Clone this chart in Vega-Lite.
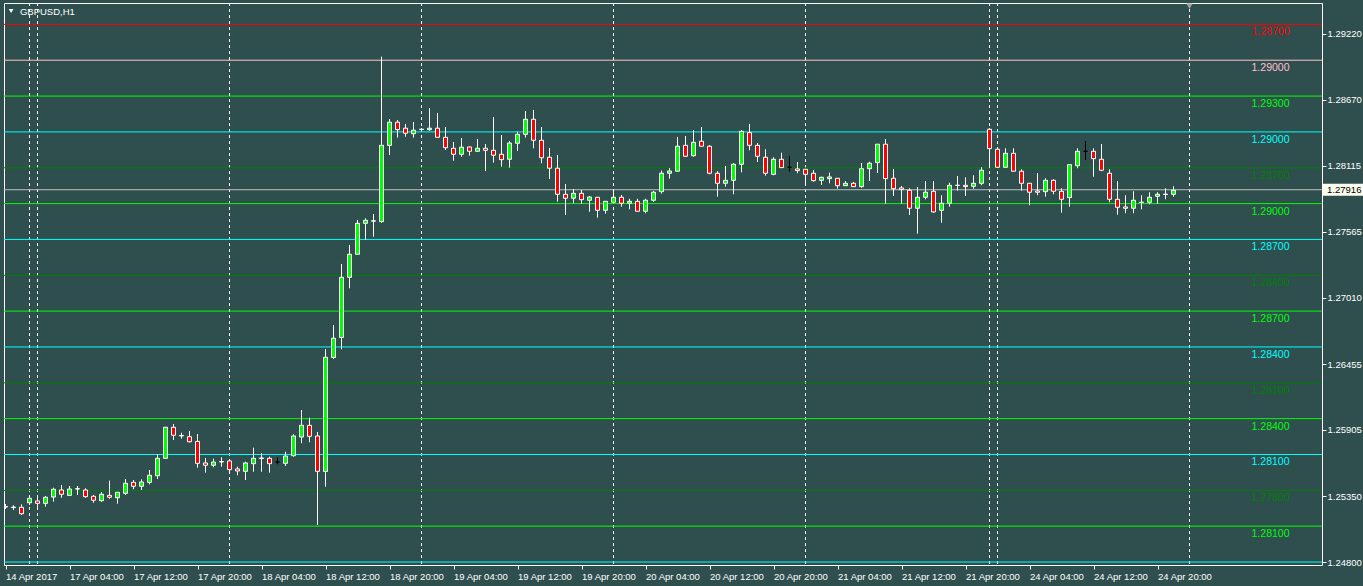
{
  "$schema": "https://vega.github.io/schema/vega-lite/v6.json",
  "width": 1318,
  "height": 562,
  "autosize": {"type": "none"},
  "padding": {"left": 4, "top": 3, "right": 41, "bottom": 21},
  "background": "#2f4f4f",
  "config": {
    "view": {"stroke": "#ffffff", "strokeWidth": 1, "fill": "#2f4f4f"},
    "axis": {"grid": false, "domain": false, "title": null, "labelFont": "Liberation Sans", "labelColor": "#ffffff", "tickColor": "#ffffff", "labelFontSize": 9.5},
    "text": {"font": "Liberation Sans"}
  },
  "datasets": {
    "candles": [
      {"i":0,"o":1.25265,"h":1.25286,"l":1.25244,"c":1.25260,"dir":"down"},
      {"i":1,"o":1.25260,"h":1.25275,"l":1.25235,"c":1.25256,"dir":"down"},
      {"i":2,"o":1.25258,"h":1.25283,"l":1.25193,"c":1.25204,"dir":"down"},
      {"i":3,"o":1.25296,"h":1.25358,"l":1.25277,"c":1.25333,"dir":"up"},
      {"i":4,"o":1.25311,"h":1.25344,"l":1.25235,"c":1.25291,"dir":"down"},
      {"i":5,"o":1.25291,"h":1.25352,"l":1.25263,"c":1.25342,"dir":"up"},
      {"i":6,"o":1.25344,"h":1.25422,"l":1.25305,"c":1.25409,"dir":"up"},
      {"i":7,"o":1.25403,"h":1.25445,"l":1.25338,"c":1.25367,"dir":"down"},
      {"i":8,"o":1.25358,"h":1.25436,"l":1.25352,"c":1.25411,"dir":"up"},
      {"i":9,"o":1.25414,"h":1.25436,"l":1.25361,"c":1.25411,"dir":"down"},
      {"i":10,"o":1.25403,"h":1.25417,"l":1.25338,"c":1.25347,"dir":"down"},
      {"i":11,"o":1.25350,"h":1.25361,"l":1.25296,"c":1.25317,"dir":"down"},
      {"i":12,"o":1.25313,"h":1.25386,"l":1.25305,"c":1.25367,"dir":"up"},
      {"i":13,"o":1.25358,"h":1.25481,"l":1.25330,"c":1.25342,"dir":"down"},
      {"i":14,"o":1.25338,"h":1.25388,"l":1.25288,"c":1.25383,"dir":"up"},
      {"i":15,"o":1.25375,"h":1.25495,"l":1.25361,"c":1.25459,"dir":"up"},
      {"i":16,"o":1.25467,"h":1.25486,"l":1.25409,"c":1.25434,"dir":"down"},
      {"i":17,"o":1.25434,"h":1.25492,"l":1.25403,"c":1.25470,"dir":"up"},
      {"i":18,"o":1.25467,"h":1.25570,"l":1.25450,"c":1.25526,"dir":"up"},
      {"i":19,"o":1.25522,"h":1.25704,"l":1.25495,"c":1.25668,"dir":"up"},
      {"i":20,"o":1.25668,"h":1.25930,"l":1.25662,"c":1.25928,"dir":"up"},
      {"i":21,"o":1.25928,"h":1.25955,"l":1.25821,"c":1.25861,"dir":"down"},
      {"i":22,"o":1.25859,"h":1.25882,"l":1.25832,"c":1.25855,"dir":"down"},
      {"i":23,"o":1.25849,"h":1.25897,"l":1.25800,"c":1.25807,"dir":"down"},
      {"i":24,"o":1.25810,"h":1.25871,"l":1.25589,"c":1.25626,"dir":"down"},
      {"i":25,"o":1.25629,"h":1.25671,"l":1.25548,"c":1.25610,"dir":"down"},
      {"i":26,"o":1.25610,"h":1.25665,"l":1.25593,"c":1.25637,"dir":"up"},
      {"i":27,"o":1.25641,"h":1.25676,"l":1.25598,"c":1.25637,"dir":"down"},
      {"i":28,"o":1.25646,"h":1.25660,"l":1.25548,"c":1.25573,"dir":"down"},
      {"i":29,"o":1.25579,"h":1.25598,"l":1.25526,"c":1.25562,"dir":"down"},
      {"i":30,"o":1.25559,"h":1.25640,"l":1.25486,"c":1.25629,"dir":"up"},
      {"i":31,"o":1.25623,"h":1.25757,"l":1.25556,"c":1.25668,"dir":"up"},
      {"i":32,"o":1.25671,"h":1.25710,"l":1.25556,"c":1.25666,"dir":"down"},
      {"i":33,"o":1.25668,"h":1.25682,"l":1.25548,"c":1.25623,"dir":"down"},
      {"i":34,"o":1.25637,"h":1.25676,"l":1.25618,"c":1.25637,"dir":"doji"},
      {"i":35,"o":1.25626,"h":1.25723,"l":1.25604,"c":1.25687,"dir":"up"},
      {"i":36,"o":1.25690,"h":1.25869,"l":1.25682,"c":1.25855,"dir":"up"},
      {"i":37,"o":1.25846,"h":1.26072,"l":1.25794,"c":1.25944,"dir":"up"},
      {"i":38,"o":1.25944,"h":1.26008,"l":1.25802,"c":1.25852,"dir":"down"},
      {"i":39,"o":1.25855,"h":1.25888,"l":1.25110,"c":1.25559,"dir":"down"},
      {"i":40,"o":1.25558,"h":1.26583,"l":1.25430,"c":1.26514,"dir":"up"},
      {"i":41,"o":1.26512,"h":1.26784,"l":1.26499,"c":1.26673,"dir":"up"},
      {"i":42,"o":1.26679,"h":1.27295,"l":1.26581,"c":1.27183,"dir":"up"},
      {"i":43,"o":1.27183,"h":1.27454,"l":1.27091,"c":1.27376,"dir":"up"},
      {"i":44,"o":1.27376,"h":1.27663,"l":1.27374,"c":1.27635,"dir":"up"},
      {"i":45,"o":1.27635,"h":1.27677,"l":1.27495,"c":1.27660,"dir":"up"},
      {"i":46,"o":1.27653,"h":1.27713,"l":1.27523,"c":1.27656,"dir":"up"},
      {"i":47,"o":1.27649,"h":1.29030,"l":1.27640,"c":1.28288,"dir":"up"},
      {"i":48,"o":1.28287,"h":1.28508,"l":1.28207,"c":1.28481,"dir":"up"},
      {"i":49,"o":1.28481,"h":1.28500,"l":1.28352,"c":1.28419,"dir":"down"},
      {"i":50,"o":1.28431,"h":1.28467,"l":1.28360,"c":1.28389,"dir":"down"},
      {"i":51,"o":1.28385,"h":1.28483,"l":1.28352,"c":1.28414,"dir":"up"},
      {"i":52,"o":1.28420,"h":1.28433,"l":1.28410,"c":1.28423,"dir":"up"},
      {"i":53,"o":1.28419,"h":1.28600,"l":1.28410,"c":1.28431,"dir":"up"},
      {"i":54,"o":1.28431,"h":1.28559,"l":1.28353,"c":1.28355,"dir":"down"},
      {"i":55,"o":1.28355,"h":1.28441,"l":1.28249,"c":1.28268,"dir":"down"},
      {"i":56,"o":1.28263,"h":1.28316,"l":1.28159,"c":1.28213,"dir":"down"},
      {"i":57,"o":1.28213,"h":1.28349,"l":1.28193,"c":1.28272,"dir":"up"},
      {"i":58,"o":1.28274,"h":1.28278,"l":1.28201,"c":1.28238,"dir":"down"},
      {"i":59,"o":1.28238,"h":1.28341,"l":1.28232,"c":1.28263,"dir":"up"},
      {"i":60,"o":1.28263,"h":1.28299,"l":1.28073,"c":1.28246,"dir":"down"},
      {"i":61,"o":1.28246,"h":1.28525,"l":1.28143,"c":1.28205,"dir":"down"},
      {"i":62,"o":1.28213,"h":1.28374,"l":1.28109,"c":1.28168,"dir":"down"},
      {"i":63,"o":1.28171,"h":1.28324,"l":1.28101,"c":1.28307,"dir":"up"},
      {"i":64,"o":1.28305,"h":1.28402,"l":1.28240,"c":1.28380,"dir":"up"},
      {"i":65,"o":1.28380,"h":1.28575,"l":1.28352,"c":1.28506,"dir":"up"},
      {"i":66,"o":1.28506,"h":1.28584,"l":1.28263,"c":1.28330,"dir":"down"},
      {"i":67,"o":1.28330,"h":1.28441,"l":1.28138,"c":1.28184,"dir":"down"},
      {"i":68,"o":1.28188,"h":1.28266,"l":1.28006,"c":1.28096,"dir":"down"},
      {"i":69,"o":1.28096,"h":1.28207,"l":1.27816,"c":1.27878,"dir":"down"},
      {"i":70,"o":1.27878,"h":1.27964,"l":1.27705,"c":1.27845,"dir":"down"},
      {"i":71,"o":1.27845,"h":1.27922,"l":1.27803,"c":1.27886,"dir":"up"},
      {"i":72,"o":1.27886,"h":1.27914,"l":1.27797,"c":1.27833,"dir":"down"},
      {"i":73,"o":1.27828,"h":1.27864,"l":1.27732,"c":1.27855,"dir":"up"},
      {"i":74,"o":1.27853,"h":1.27855,"l":1.27682,"c":1.27744,"dir":"down"},
      {"i":75,"o":1.27744,"h":1.27822,"l":1.27716,"c":1.27819,"dir":"up"},
      {"i":76,"o":1.27811,"h":1.27922,"l":1.27803,"c":1.27853,"dir":"up"},
      {"i":77,"o":1.27853,"h":1.27872,"l":1.27774,"c":1.27803,"dir":"down"},
      {"i":78,"o":1.27803,"h":1.27841,"l":1.27752,"c":1.27819,"dir":"up"},
      {"i":79,"o":1.27819,"h":1.27841,"l":1.27732,"c":1.27736,"dir":"down"},
      {"i":80,"o":1.27736,"h":1.27841,"l":1.27719,"c":1.27828,"dir":"up"},
      {"i":81,"o":1.27828,"h":1.27906,"l":1.27814,"c":1.27895,"dir":"up"},
      {"i":82,"o":1.27900,"h":1.28076,"l":1.27883,"c":1.28054,"dir":"up"},
      {"i":83,"o":1.28054,"h":1.28096,"l":1.28009,"c":1.28073,"dir":"up"},
      {"i":84,"o":1.28071,"h":1.28358,"l":1.28069,"c":1.28280,"dir":"up"},
      {"i":85,"o":1.28288,"h":1.28366,"l":1.28194,"c":1.28196,"dir":"down"},
      {"i":86,"o":1.28201,"h":1.28416,"l":1.28193,"c":1.28313,"dir":"up"},
      {"i":87,"o":1.28322,"h":1.28441,"l":1.28278,"c":1.28280,"dir":"down"},
      {"i":88,"o":1.28280,"h":1.28288,"l":1.28045,"c":1.28054,"dir":"down"},
      {"i":89,"o":1.28054,"h":1.28071,"l":1.27858,"c":1.27970,"dir":"down"},
      {"i":90,"o":1.27970,"h":1.28115,"l":1.27942,"c":1.27995,"dir":"up"},
      {"i":91,"o":1.27995,"h":1.28138,"l":1.27878,"c":1.28129,"dir":"up"},
      {"i":92,"o":1.28129,"h":1.28414,"l":1.28062,"c":1.28405,"dir":"up"},
      {"i":93,"o":1.28394,"h":1.28467,"l":1.28246,"c":1.28288,"dir":"down"},
      {"i":94,"o":1.28288,"h":1.28307,"l":1.28148,"c":1.28196,"dir":"down"},
      {"i":95,"o":1.28188,"h":1.28255,"l":1.28034,"c":1.28054,"dir":"down"},
      {"i":96,"o":1.28045,"h":1.28188,"l":1.28037,"c":1.28171,"dir":"up"},
      {"i":97,"o":1.28171,"h":1.28226,"l":1.28098,"c":1.28101,"dir":"down"},
      {"i":98,"o":1.28104,"h":1.28199,"l":1.28067,"c":1.28104,"dir":"doji"},
      {"i":99,"o":1.28090,"h":1.28148,"l":1.28054,"c":1.28076,"dir":"down"},
      {"i":100,"o":1.28087,"h":1.28090,"l":1.27948,"c":1.28045,"dir":"down"},
      {"i":101,"o":1.28054,"h":1.28081,"l":1.27984,"c":1.27992,"dir":"down"},
      {"i":102,"o":1.27995,"h":1.28025,"l":1.27956,"c":1.28020,"dir":"up"},
      {"i":103,"o":1.28009,"h":1.28059,"l":1.27970,"c":1.28023,"dir":"up"},
      {"i":104,"o":1.28012,"h":1.28015,"l":1.27925,"c":1.27950,"dir":"down"},
      {"i":105,"o":1.27950,"h":1.27989,"l":1.27948,"c":1.27970,"dir":"up"},
      {"i":106,"o":1.27970,"h":1.27981,"l":1.27939,"c":1.27942,"dir":"down"},
      {"i":107,"o":1.27942,"h":1.28140,"l":1.27933,"c":1.28092,"dir":"up"},
      {"i":108,"o":1.28092,"h":1.28151,"l":1.27989,"c":1.28138,"dir":"up"},
      {"i":109,"o":1.28143,"h":1.28299,"l":1.28056,"c":1.28297,"dir":"up"},
      {"i":110,"o":1.28297,"h":1.28341,"l":1.27799,"c":1.28009,"dir":"down"},
      {"i":111,"o":1.28012,"h":1.28090,"l":1.27864,"c":1.27925,"dir":"down"},
      {"i":112,"o":1.27931,"h":1.27948,"l":1.27799,"c":1.27917,"dir":"down"},
      {"i":113,"o":1.27912,"h":1.27928,"l":1.27705,"c":1.27761,"dir":"down"},
      {"i":114,"o":1.27761,"h":1.27939,"l":1.27548,"c":1.27853,"dir":"up"},
      {"i":115,"o":1.27853,"h":1.27989,"l":1.27836,"c":1.27895,"dir":"up"},
      {"i":116,"o":1.27903,"h":1.27989,"l":1.27724,"c":1.27730,"dir":"down"},
      {"i":117,"o":1.27744,"h":1.27870,"l":1.27640,"c":1.27803,"dir":"up"},
      {"i":118,"o":1.27803,"h":1.27975,"l":1.27774,"c":1.27953,"dir":"up"},
      {"i":119,"o":1.27952,"h":1.28031,"l":1.27908,"c":1.27954,"dir":"up"},
      {"i":120,"o":1.27953,"h":1.28020,"l":1.27864,"c":1.27942,"dir":"down"},
      {"i":121,"o":1.27945,"h":1.28037,"l":1.27925,"c":1.27970,"dir":"up"},
      {"i":122,"o":1.27970,"h":1.28104,"l":1.27953,"c":1.28079,"dir":"up"},
      {"i":123,"o":1.28422,"h":1.28431,"l":1.28096,"c":1.28260,"dir":"down"},
      {"i":124,"o":1.28255,"h":1.28262,"l":1.28098,"c":1.28104,"dir":"down"},
      {"i":125,"o":1.28104,"h":1.28263,"l":1.28101,"c":1.28221,"dir":"up"},
      {"i":126,"o":1.28221,"h":1.28263,"l":1.28069,"c":1.28071,"dir":"down"},
      {"i":127,"o":1.28071,"h":1.28087,"l":1.27908,"c":1.27970,"dir":"down"},
      {"i":128,"o":1.27970,"h":1.27973,"l":1.27786,"c":1.27895,"dir":"down"},
      {"i":129,"o":1.27906,"h":1.28056,"l":1.27870,"c":1.27895,"dir":"down"},
      {"i":130,"o":1.27900,"h":1.28012,"l":1.27858,"c":1.27995,"dir":"up"},
      {"i":131,"o":1.27995,"h":1.28004,"l":1.27878,"c":1.27903,"dir":"down"},
      {"i":132,"o":1.27903,"h":1.27928,"l":1.27724,"c":1.27836,"dir":"down"},
      {"i":133,"o":1.27850,"h":1.28127,"l":1.27774,"c":1.28126,"dir":"up"},
      {"i":134,"o":1.28117,"h":1.28263,"l":1.28096,"c":1.28238,"dir":"up"},
      {"i":135,"o":1.28238,"h":1.28324,"l":1.28165,"c":1.28238,"dir":"doji"},
      {"i":136,"o":1.28238,"h":1.28263,"l":1.28025,"c":1.28176,"dir":"down"},
      {"i":137,"o":1.28171,"h":1.28299,"l":1.28071,"c":1.28079,"dir":"down"},
      {"i":138,"o":1.28054,"h":1.28087,"l":1.27811,"c":1.27836,"dir":"down"},
      {"i":139,"o":1.27836,"h":1.27989,"l":1.27707,"c":1.27769,"dir":"down"},
      {"i":140,"o":1.27772,"h":1.27870,"l":1.27719,"c":1.27761,"dir":"down"},
      {"i":141,"o":1.27761,"h":1.27903,"l":1.27719,"c":1.27828,"dir":"up"},
      {"i":142,"o":1.27809,"h":1.27870,"l":1.27752,"c":1.27812,"dir":"up"},
      {"i":143,"o":1.27811,"h":1.27895,"l":1.27794,"c":1.27853,"dir":"up"},
      {"i":144,"o":1.27861,"h":1.27895,"l":1.27797,"c":1.27878,"dir":"up"},
      {"i":145,"o":1.27876,"h":1.27928,"l":1.27836,"c":1.27879,"dir":"up"},
      {"i":146,"o":1.27878,"h":1.27945,"l":1.27858,"c":1.27912,"dir":"up"}
    ],
    "levels": [
      {"level":1.293,"set":"r","label":"1.28700"},
      {"level":1.290,"set":"p","label":"1.29000"},
      {"level":1.287,"set":"a","label":"1.29300"},
      {"level":1.284,"set":"b","label":"1.29000"},
      {"level":1.281,"set":"c","label":"1.28700"},
      {"level":1.278,"set":"a","label":"1.29000"},
      {"level":1.275,"set":"b","label":"1.28700"},
      {"level":1.272,"set":"c","label":"1.28400"},
      {"level":1.269,"set":"a","label":"1.28700"},
      {"level":1.266,"set":"b","label":"1.28400"},
      {"level":1.263,"set":"c","label":"1.28100"},
      {"level":1.260,"set":"a","label":"1.28400"},
      {"level":1.257,"set":"b","label":"1.28100"},
      {"level":1.254,"set":"c","label":"1.27800"},
      {"level":1.251,"set":"a","label":"1.28100"},
      {"level":1.248,"set":"b","label":""}
    ],
    "seps": [{"i":3},{"i":4},{"i":28},{"i":52},{"i":76},{"i":100},{"i":123},{"i":124},{"i":148}],
    "bid": [{"price":1.27916}],
    "symbol": [{"name":"GBPUSD,H1"}]
  },
  "layer": [
    {
      "data": {"name": "seps"},
      "mark": {"type": "rule", "stroke": "#ffffff", "strokeWidth": 1, "strokeDash": [3, 3]},
      "encoding": {
        "x": {"field": "i", "type": "quantitative", "scale": {"domain": [-0.1875, 164.5625], "nice": false, "zero": false, "padding": 0},
              "axis": {"orient": "bottom", "values": [0,8,16,24,32,40,48,56,64,72,80,88,96,104,112,120,128,136,144], "labelAlign": "left", "labelPadding": 2, "tickSize": 4, "labelOverlap": false, "labelBound": false, "labelFlush": false,
                       "labelExpr": "['14 Apr 2017','17 Apr 04:00','17 Apr 12:00','17 Apr 20:00','18 Apr 04:00','18 Apr 12:00','18 Apr 20:00','19 Apr 04:00','19 Apr 12:00','19 Apr 20:00','20 Apr 04:00','20 Apr 12:00','20 Apr 20:00','21 Apr 04:00','21 Apr 12:00','21 Apr 20:00','24 Apr 04:00','24 Apr 12:00','24 Apr 20:00'][round(datum.value/8)]"}}
      }
    },
    {
      "data": {"name": "levels"},
      "mark": {"type": "rule", "strokeWidth": 1},
      "encoding": {
        "y": {"field": "level", "type": "quantitative", "scale": {"domain": [1.24775, 1.29479], "nice": false, "zero": false},
              "axis": {"orient": "right", "values": [1.2922,1.28945,1.2867,1.2839,1.28115,1.2784,1.27565,1.27285,1.2701,1.26735,1.26455,1.2618,1.25905,1.2563,1.2535,1.25075,1.248], "format": ".5f", "labelAlign": "left", "labelPadding": 1, "tickSize": 4, "labelOverlap": false, "labelBound": false, "labelFlush": false}},
        "color": {"field": "set", "type": "nominal", "legend": null, "scale": {"domain": ["r","p","a","b","c"], "range": ["#ff0000","#ffc0cb","#00ff00","#00ffff","#008000"]}}
      }
    },
    {
      "data": {"name": "levels"},
      "mark": {"type": "text", "align": "right", "baseline": "middle", "dy": 8, "fontSize": 10.5, "clip": true},
      "encoding": {
        "x": {"datum": 160.5},
        "y": {"field": "level", "type": "quantitative"},
        "text": {"field": "label"},
        "color": {"field": "set", "type": "nominal", "legend": null}
      }
    },
    {
      "data": {"name": "bid"},
      "mark": {"type": "rule", "stroke": "#c0c0c0", "strokeWidth": 1},
      "encoding": {"y": {"field": "price", "type": "quantitative"}}
    },
    {
      "data": {"name": "candles"},
      "mark": {"type": "rule", "strokeWidth": 1, "clip": true},
      "encoding": {
        "x": {"field": "i", "type": "quantitative"},
        "y": {"field": "l", "type": "quantitative"},
        "y2": {"field": "h"},
        "stroke": {"field": "dir", "type": "nominal", "legend": null, "scale": {"domain": ["up","down","doji"], "range": ["#ffffff","#ffffff","#000000"]}}
      }
    },
    {
      "data": {"name": "candles"},
      "mark": {"type": "bar", "width": 4, "strokeWidth": 1, "clip": true},
      "encoding": {
        "x": {"field": "i", "type": "quantitative"},
        "y": {"field": "o", "type": "quantitative"},
        "y2": {"field": "c"},
        "fill": {"field": "dir", "type": "nominal", "legend": null, "scale": {"domain": ["up","down","doji"], "range": ["#00ff00","#ff0000","#000000"]}},
        "stroke": {"field": "dir", "type": "nominal", "legend": null}
      }
    },
    {
      "data": {"name": "bid"},
      "mark": {"type": "rect", "fill": "#fffff0", "clip": false},
      "encoding": {
        "x": {"datum": 164.6875},
        "x2": {"datum": 170.5},
        "y": {"datum": 1.27966},
        "y2": {"datum": 1.27866}
      }
    },
    {
      "data": {"name": "bid"},
      "mark": {"type": "text", "align": "left", "baseline": "middle", "fontSize": 9.5, "color": "#000000", "clip": false},
      "encoding": {
        "x": {"datum": 165.2},
        "y": {"field": "price", "type": "quantitative"},
        "text": {"field": "price", "type": "quantitative", "format": ".5f"}
      }
    },
    {
      "data": {"name": "symbol"},
      "mark": {"type": "point", "shape": "triangle-down", "filled": true, "fill": "#ffffff", "size": 22, "opacity": 1},
      "encoding": {"x": {"datum": 0.7}, "y": {"datum": 1.29412}}
    },
    {
      "data": {"name": "symbol"},
      "mark": {"type": "text", "align": "left", "baseline": "middle", "fontSize": 9.5, "color": "#ffffff"},
      "encoding": {"x": {"datum": 1.8}, "y": {"datum": 1.29404}, "text": {"field": "name"}}
    },
    {
      "data": {"name": "symbol"},
      "mark": {"type": "point", "shape": "triangle-down", "filled": true, "fill": "#a0a0a0", "size": 40, "opacity": 1},
      "encoding": {"x": {"datum": 148}, "y": {"datum": 1.29452}}
    }
  ]
}
